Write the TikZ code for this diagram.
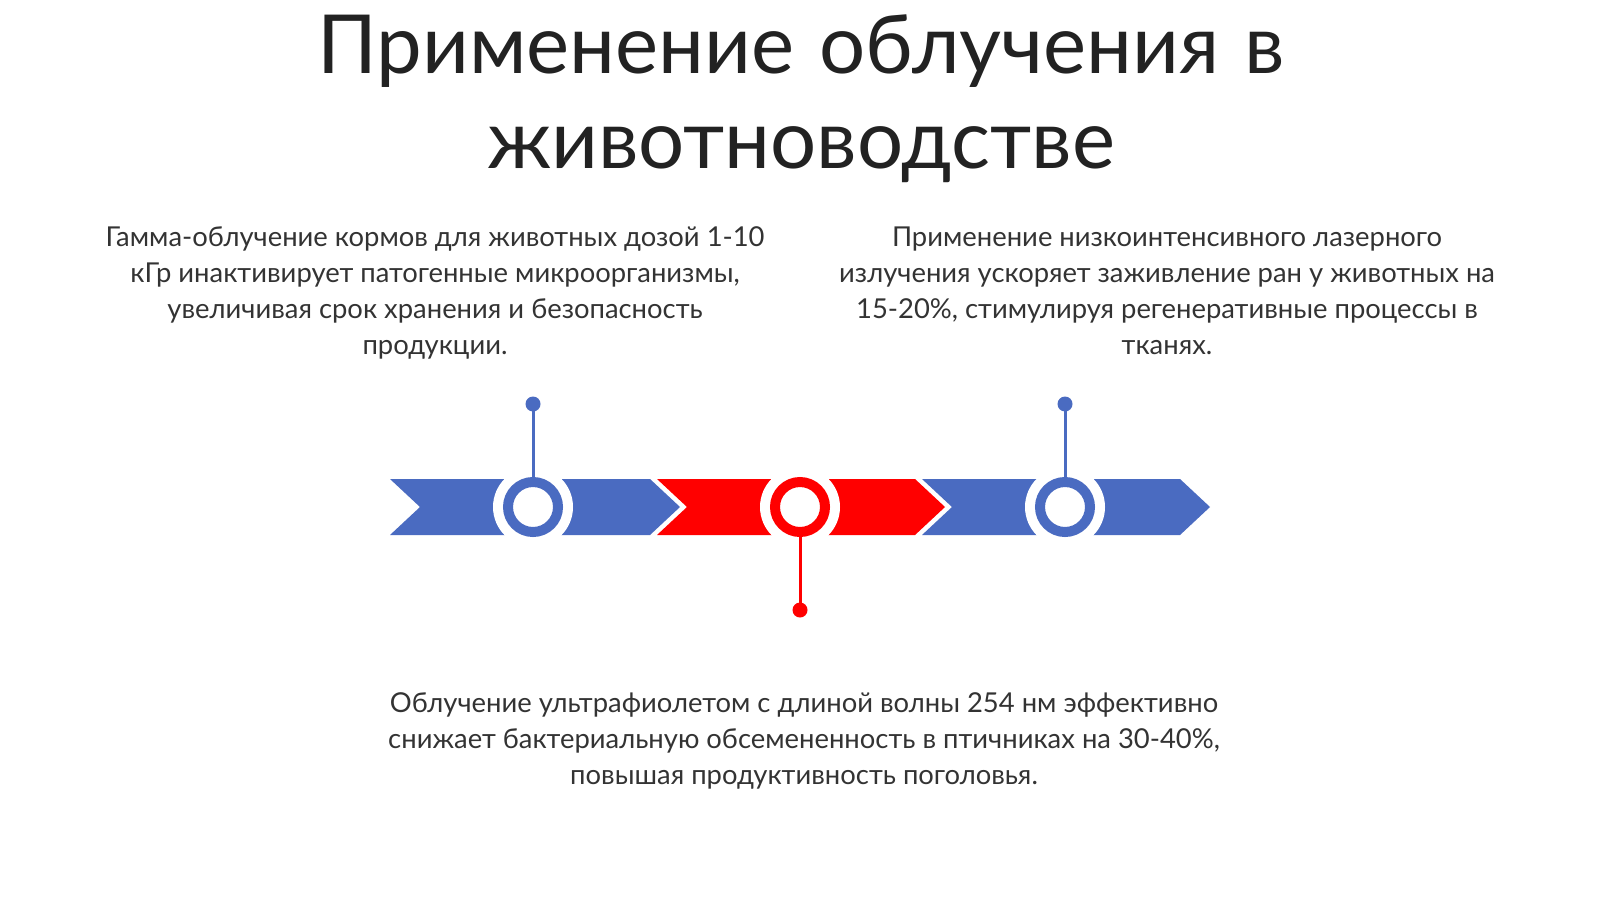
\documentclass[tikz,border=0pt]{standalone}
\usepackage{fontspec}
\setmainfont{Lato}
\definecolor{tlblue}{HTML}{4A6BC1}
\definecolor{tlred}{HTML}{FF0000}
\definecolor{txt}{HTML}{333333}
\definecolor{ttl}{HTML}{222222}
\begin{document}
\begin{tikzpicture}[x=1pt,y=-1pt,
  halo/.style={circle,fill=white,minimum size=80pt,inner sep=0pt},
  ring/.style={circle,draw=#1,line width=10pt,fill=white,minimum size=50pt,inner sep=0pt},
  dotnode/.style={circle,fill=#1,minimum size=15pt,inner sep=0pt},
  stem/.style={draw=#1,line width=3pt},
  body/.style={align=center,text=txt,font=\fontsize{27.4}{35.7}\selectfont,anchor=base,inner sep=0pt},
  title/.style={align=center,text=ttl,font=\fontsize{81.5}{95}\selectfont,anchor=base,inner sep=0pt}]
\useasboundingbox (0,0) rectangle (1600,899);
\fill[white] (0,0) rectangle (1600,899);
% title (anchor = baseline of last line)
\node[title] (t) at (801,168) {Применение\hspace{4pt} облучения\hspace{4pt} в\\животноводстве};
% texts
\node[body] (txt1) at (435,354) {Гамма-облучение кормов для животных дозой 1-10\\кГр инактивирует патогенные микроорганизмы,\\увеличивая срок хранения и безопасность\\продукции.};
\node[body] (txt2) at (1167,354) {Применение низкоинтенсивного лазерного\\излучения ускоряет заживление ран у животных на\\15-20\%, стимулируя регенеративные процессы в\\тканях.};
\node[body] (txt3) at (804,784) {Облучение ультрафиолетом с длиной волны 254 нм эффективно\\снижает бактериальную обсемененность в птичниках на 30-40\%,\\повышая продуктивность поголовья.};
% chevron band
\fill[tlblue] (390,479) -- (650,479) -- (680,507) -- (650,535) -- (390,535) -- (420,507) -- cycle;
\fill[tlred] (657,479) -- (915,479) -- (945,507) -- (915,535) -- (657,535) -- (687,507) -- cycle;
\fill[tlblue] (922,479) -- (1180,479) -- (1210,507) -- (1180,535) -- (922,535) -- (952,507) -- cycle;
% circles
\node[halo] (h1) at (533,507) {};
\node[halo] (h2) at (800,507) {};
\node[halo] (h3) at (1065,507) {};
\node[ring=tlblue] (c1) at (533,507) {};
\node[ring=tlred] (c2) at (800,507) {};
\node[ring=tlblue] (c3) at (1065,507) {};
% stems and dots
\node[dotnode=tlblue] (d1) at (533,404) {};
\node[dotnode=tlred] (d2) at (800,610) {};
\node[dotnode=tlblue] (d3) at (1065,404) {};
\draw[stem=tlblue] (c1.north) -- (d1.center);
\draw[stem=tlred] (c2.south) -- (d2.center);
\draw[stem=tlblue] (c3.north) -- (d3.center);
\end{tikzpicture}
\end{document}
